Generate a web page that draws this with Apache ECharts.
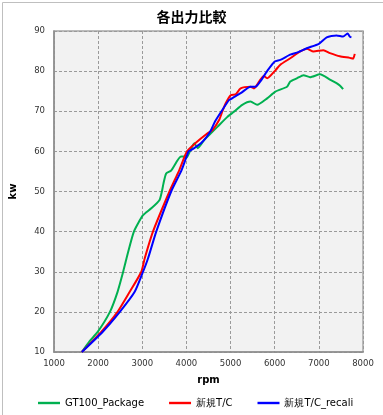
<!DOCTYPE html>
<html>
<head>
<meta charset="utf-8">
<script src="https://cdn.jsdelivr.net/npm/echarts@6/dist/echarts.min.js"></script>
<style>
html,body{margin:0;padding:0;background:#fff;}
#c{width:383px;height:415px;}
</style>
</head>
<body>
<div id="c"></div>
<script>
const titleText = '各出力比較';
const seriesNames = ['GT100_Package', '新規T/C', '新規T/C_recali'];
const xTicks = [1000, 2000, 3000, 4000, 5000, 6000, 7000, 8000];
const yTicks = [10, 20, 30, 40, 50, 60, 70, 80, 90];

const gtRpm = [1630, 1800, 1990, 2267, 2440, 2567, 2642, 2810, 3017, 3204, 3391, 3444, 3480, 3541, 3653, 3878, 3952, 4000, 4080, 4180, 4254, 4400, 4553, 4700, 4928, 5078, 5265, 5453, 5603, 5828, 6015, 6278, 6352, 6502, 6652, 6802, 7026, 7251, 7400, 7475, 7550];
const gtKw  = [10, 12.6, 15, 20, 25, 30, 33.3, 40, 44.1, 45.8, 47.9, 50, 52, 54.5, 55.2, 58.7, 58.7, 58.4, 60, 62, 60.8, 62.8, 64.5, 66.1, 68.6, 69.9, 71.6, 72.4, 71.6, 73.2, 74.9, 76.1, 77.4, 78.2, 79, 78.5, 79.2, 77.9, 77, 76.4, 75.5];

const newRpm = [1630, 2070, 2440, 2716, 2979, 3054, 3242, 3616, 3841, 4013, 4200, 4478, 4590, 4740, 4815, 4890, 5003, 5116, 5228, 5453, 5528, 5750, 5828, 6015, 6127, 6352, 6577, 6727, 6877, 7101, 7251, 7475, 7700, 7776, 7813];
const newKw  = [10, 15, 20, 25, 30, 33.3, 40, 50, 55.4, 60, 62, 64.5, 65.3, 67.8, 70, 72, 74, 74.2, 75.7, 76.1, 75.7, 78.8, 78.2, 80.2, 81.6, 83.2, 84.9, 85.6, 84.9, 85.2, 84.5, 83.7, 83.3, 83.1, 84.3];

const recRpm = [1630, 2100, 2491, 2828, 3017, 3129, 3316, 3654, 3893, 4048, 4100, 4200, 4328, 4450, 4553, 4650, 4794, 4965, 5003, 5153, 5228, 5453, 5565, 5678, 5828, 6000, 6127, 6352, 6502, 6727, 7000, 7177, 7400, 7550, 7650, 7700, 7738];
const recKw  = [10, 15, 20, 25, 30, 33.3, 40, 50, 55.4, 60, 60.3, 61, 62, 63.5, 65.2, 67.5, 70, 72.8, 73, 74, 74.5, 76.1, 76.1, 77.5, 80, 82.4, 82.8, 84.1, 84.6, 85.7, 86.8, 88.4, 88.9, 88.6, 89.4, 88.6, 88.4];

function pairs(xs, ys){ return xs.map((x,i)=>[x, ys[i]]); }

const colors = ['#00b050', '#ff0000', '#0000ff'];
const FONT = 'DejaVu Sans';

const chart = echarts.init(document.getElementById('c'), null, {renderer:'canvas'});
chart.setOption({
  animation: false,
  backgroundColor: '#ffffff',
  color: colors,
  graphic: [{
    type: 'rect', left: 0, top: 0, z: -10,
    shape: {x: 0.5, y: 0.5, width: 382, height: 414},
    style: {fill: 'none', stroke: '#bfbfbf', lineWidth: 1}
  }],
  title: {
    text: titleText, left: 'center', top: 5,
    textStyle: {fontFamily: 'Noto Sans CJK JP', fontSize: 14, fontWeight: 'bold', color: '#000'}
  },
  legend: {
    left: 33, top: 393, itemGap: 25, itemWidth: 22, itemHeight: 10,
    icon: 'path://M0,3.8 L22,3.8 L22,6.2 L0,6.2 Z',
    textStyle: {fontFamily: FONT, fontSize: 10, color: '#000'},
    data: seriesNames
  },
  grid: {
    left: 52, right: 20, top: 31, bottom: 63,
    show: true, backgroundColor: '#f2f2f2', borderColor: '#a6a6a6', borderWidth: 1.5
  },
  xAxis: {
    type: 'value', min: xTicks[0], max: xTicks[xTicks.length-1], interval: 1000,
    name: 'rpm', nameLocation: 'middle', nameGap: 23,
    nameTextStyle: {fontFamily: FONT, fontSize: 10, fontWeight: 'bold', color: '#000'},
    axisLine: {show: true, lineStyle: {color: '#8c8c8c', width: 1.5}},
    axisTick: {show: false},
    axisLabel: {fontFamily: FONT, fontSize: 8.5, color: '#333', margin: 7, formatter: v => String(v)},
    splitLine: {show: true, lineStyle: {color: '#9a9a9a', type: [3, 2], width: 1}}
  },
  yAxis: {
    type: 'value', min: yTicks[0], max: yTicks[yTicks.length-1], interval: 10,
    name: 'kw', nameLocation: 'middle', nameGap: 36, nameRotate: 90,
    nameTextStyle: {fontFamily: FONT, fontSize: 10, fontWeight: 'bold', color: '#000'},
    axisLine: {show: true, lineStyle: {color: '#8c8c8c', width: 1.5}},
    axisTick: {show: false},
    axisLabel: {fontFamily: FONT, fontSize: 8.5, color: '#333', margin: 9, formatter: v => String(v)},
    splitLine: {show: true, lineStyle: {color: '#9a9a9a', type: [3, 2], width: 1}}
  },
  series: [
    {name: seriesNames[0], type: 'line', showSymbol: false, smooth: 0.2, data: pairs(gtRpm, gtKw), lineStyle: {width: 2, color: colors[0]}, z: 2},
    {name: seriesNames[1], type: 'line', showSymbol: false, smooth: 0.2, data: pairs(newRpm, newKw), lineStyle: {width: 2, color: colors[1]}, z: 3},
    {name: seriesNames[2], type: 'line', showSymbol: false, smooth: 0.2, data: pairs(recRpm, recKw), lineStyle: {width: 2, color: colors[2]}, z: 4}
  ]
});
</script>
</body>
</html>
